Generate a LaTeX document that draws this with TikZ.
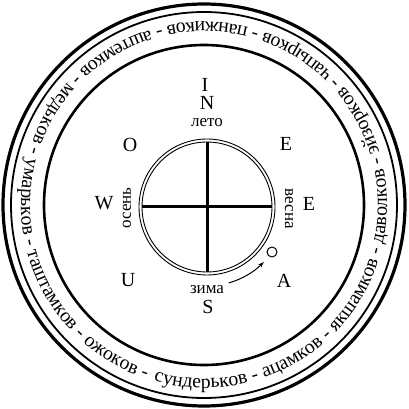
\documentclass[tikz,border=0pt]{standalone}
\usepackage{fontspec}
\setmainfont{Liberation Serif}
\usetikzlibrary{decorations.text,arrows.meta}
\tikzset{
  ringline/.style={line width=#1},
  lat/.style={inner sep=0pt,font=\fontsize{20}{20}\selectfont},
  rus/.style={inner sep=0pt,font=\fontsize{17}{17}\selectfont},
}
\newcommand\ringtext{сундерьков - ацамков - якшамков - даволков - эйзорков - чапырков - панжиков - аштемков - медьков - умарьков - таштамков - ожоков - }
\newlength\ringw
\begin{document}
\settowidth\ringw{\fontsize{20}{20}\selectfont\ringtext}%
\pgfmathsetmacro\ringfs{1133/\ringw*20}%
\begin{tikzpicture}[x=1pt,y=1pt]
\useasboundingbox (-204,-204.5) rectangle (204,204.5);
% outer rings
\coordinate (rc) at (0,-0.5);
\draw[ringline=3.2] (rc) circle (201);
\draw[ringline=1.8] (rc) circle (193);
\draw[ringline=2.6] (rc) circle (160);
% ring text
\path[decorate,decoration={text along path,
  text={|\fontsize{\ringfs}{\ringfs}\selectfont|сундерьков - ацамков - якшамков - даволков - эйзорков - чапырков - панжиков - аштемков - медьков - умарьков - таштамков - ожоков -},
  text align=left}]
  ([shift={(rc)}]254:183) arc[start angle=254,end angle=700,radius=183];
% compass
\coordinate (cc) at (3,-2.5);
\draw[line width=0.9] (cc) circle (68);
\draw[line width=0.9] (cc) circle (65);
\coordinate (ct) at (3,62.5);
\coordinate (cb) at (3,-67.5);
\coordinate (cl) at (-62,-2.5);
\coordinate (cr) at (68,-2.5);
\draw[line width=3] (ct) -- (cb);
\draw[line width=3] (cl) -- (cr);
% labels
\node[lat] (lI) at (1,119.5) {I};
\node[lat] (lN) at (3,101.5) {N};
\node[rus] (leto) at (3,81.5) {лето};
\node[lat] (lO) at (-74,59.5) {O};
\node[lat] (lE1) at (82,60.5) {E};
\node[lat] (lW) at (-100,1.5) {W};
\node[rus,rotate=90] (osen) at (-77,-3.5) {осень};
\node[lat] (lE2) at (105,0.5) {E};
\node[rus,rotate=-90] (vesna) at (85,-4.5) {весна};
\node[lat] (lU) at (-76,-75.5) {U};
\node[lat] (lA) at (80,-76.5) {A};
\node[rus] (zima) at (3,-85.5) {зима};
\node[lat] (lS) at (4,-102.5) {S};
% small circle and arrow
\node[draw,circle,line width=1,minimum size=10pt,inner sep=0pt] (sun) at (68,-47.5) {};
\draw[line width=1,-{Stealth[length=6pt,width=4pt]}] ([shift={(cc)}]-74:79) arc[start angle=-74,end angle=-44,radius=79];
\end{tikzpicture}
\end{document}
